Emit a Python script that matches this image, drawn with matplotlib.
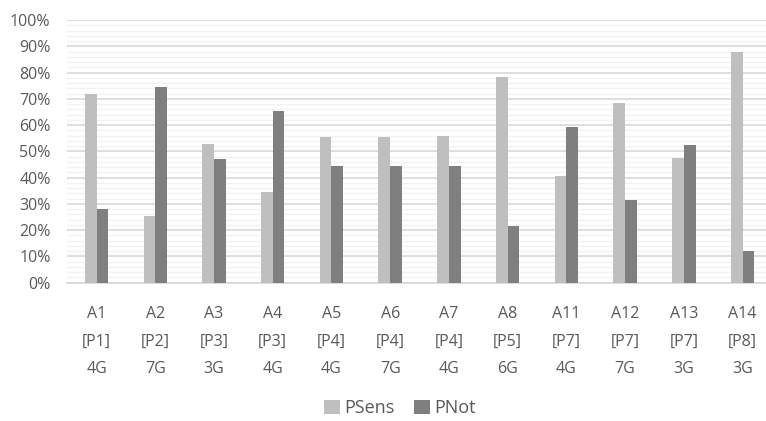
import matplotlib.pyplot as plt
import numpy as np
from matplotlib.ticker import MultipleLocator, PercentFormatter

plt.rcParams['font.family'] = ['Open Sans', 'DejaVu Sans']

# 数据
labels = ['A1\n[P1]\n4G', 'A2\n[P2]\n7G', 'A3\n[P3]\n3G', 'A4\n[P3]\n4G',
          'A5\n[P4]\n4G', 'A6\n[P4]\n7G', 'A7\n[P4]\n4G', 'A8\n[P5]\n6G',
          'A11\n[P7]\n4G', 'A12\n[P7]\n7G', 'A13\n[P7]\n3G', 'A14\n[P8]\n3G']
psens = [71.8, 25.5, 52.8, 34.5, 55.4, 55.4, 55.7, 78.4, 40.6, 68.4, 47.6, 87.8]
pnot = [28.2, 74.5, 47.2, 65.5, 44.6, 44.6, 44.3, 21.6, 59.4, 31.6, 52.4, 12.2]

fig = plt.figure(figsize=(7.66, 4.21), dpi=100)
ax = fig.add_axes([0.0877, 0.3285, 0.9123, 0.624])

x = np.arange(len(labels))
w = 0.2
ax.bar(x - w / 2, psens, w, color='#bfbfbf', label='PSens', zorder=3)
ax.bar(x + w / 2, pnot, w, color='#7f7f7f', label='PNot', zorder=3)

ax.set_ylim(0, 100)
ax.set_xlim(-0.5, 11.4)
ax.yaxis.set_major_locator(MultipleLocator(10))
ax.yaxis.set_minor_locator(MultipleLocator(2))
ax.yaxis.set_major_formatter(PercentFormatter(decimals=0))
ax.grid(axis='y', which='major', color='#d9d9d9', linewidth=1.2, zorder=0)
ax.grid(axis='y', which='minor', color='#f2f2f2', linewidth=1.0, zorder=0)
ax.set_axisbelow(True)

for s in ['top', 'right', 'left']:
    ax.spines[s].set_visible(False)
ax.spines['bottom'].set_color('#d9d9d9')
ax.spines['bottom'].set_linewidth(1.3)

ax.set_xticks(x)
ax.set_xticklabels(labels, linespacing=1.95)
ax.tick_params(axis='both', which='both', length=0, colors='#595959', labelsize=11.5)
ax.tick_params(axis='x', pad=17)
ax.tick_params(axis='y', pad=12)

fig.legend(loc='center', bbox_to_anchor=(0.522, 0.03), ncol=2, frameon=False,
           fontsize=13, labelcolor='#595959', handlelength=0.85, handleheight=0.85,
           handletextpad=0.25, columnspacing=1.1, borderpad=0.2)

plt.savefig('out.png', dpi=100)
